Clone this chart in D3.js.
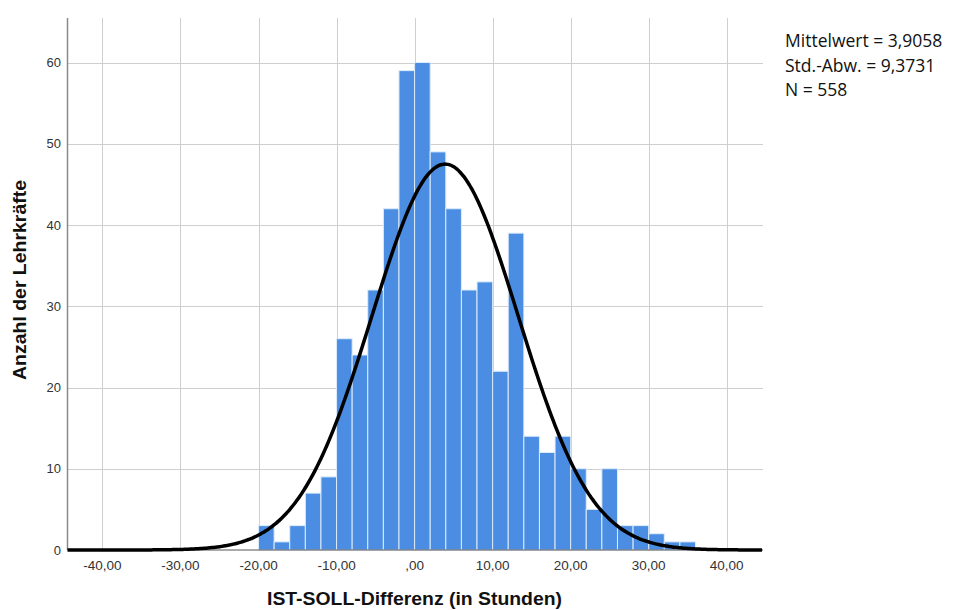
<!DOCTYPE html>
<html>
<head>
<meta charset="utf-8">
<style>
  body { margin: 0; background: #fff; }
  svg { display: block; }
</style>
</head>
<body>
<svg class="histo" width="957" height="610"></svg>

<script src="https://d3js.org/d3.v7.min.js"></script>
<script>
  // histogram bins (lower edge, width 2 h) and counts
  const binLower = [-20, -18, -16, -14, -12, -10, -8, -6, -4, -2, 0, 2, 4, 6, 8, 10, 12, 14, 16, 18, 20, 22, 24, 26, 28, 30, 32, 34];
  const counts = [3, 1, 3, 7, 9, 26, 24, 32, 42, 59, 60, 49, 42, 32, 33, 22, 39, 14, 12, 14, 10, 5, 10, 3, 3, 2, 1, 1];
  const binWidth = 2;

  const xTicks = [-40, -30, -20, -10, 0, 10, 20, 30, 40];
  const yTicks = [0, 10, 20, 30, 40, 50, 60];

  const statLabels = ["Mittelwert = 3,9058", "Std.-Abw. = 9,3731", "N = 558"];
  const mean = 3.9058, sd = 9.3731, n = 558;

  const width = 957;
  const height = 610;
  const plotLeft = 67.5, plotRight = 763, plotTop = 18, plotBottom = 550;

  const svg = d3.select("svg.histo");

  const x = d3.scaleLinear().domain([-44.48, 44.65]).range([plotLeft, plotRight]);
  const y = d3.scaleLinear().domain([0, 60]).range([plotBottom, 62.5]);

  const fmtX = v => v === 0 ? ",00" : d3.format(".2f")(v).replace(".", ",").replace("−", "-");

  // grid
  const grid = svg.append("g").attr("stroke", "#cfcfcf").attr("stroke-width", 1);
  grid.selectAll("line.h")
    .data(yTicks.filter(d => d > 0))
    .join("line")
    .attr("class", "h")
    .attr("x1", plotLeft).attr("x2", plotRight)
    .attr("y1", d => Math.round(y(d)) + 0.5).attr("y2", d => Math.round(y(d)) + 0.5);
  grid.selectAll("line.v")
    .data(xTicks)
    .join("line")
    .attr("class", "v")
    .attr("y1", plotTop).attr("y2", plotBottom)
    .attr("x1", d => Math.round(x(d)) + 0.5).attr("x2", d => Math.round(x(d)) + 0.5);

  // bars
  svg.append("g")
    .selectAll("rect")
    .data(binLower.map((b, i) => ({ x0: b, x1: b + binWidth, c: counts[i] })))
    .join("rect")
    .attr("x", d => x(d.x0))
    .attr("width", d => x(d.x1) - x(d.x0))
    .attr("y", d => y(d.c))
    .attr("height", d => y(0) - y(d.c))
    .attr("fill", "#4a8de2")
    .attr("stroke", "#dcecfb")
    .attr("stroke-width", 1);

  // axis lines
  svg.append("line")
    .attr("x1", plotLeft).attr("x2", plotLeft)
    .attr("y1", plotTop).attr("y2", plotBottom)
    .attr("stroke", "#8a8a8a").attr("stroke-width", 1.5);
  svg.append("line")
    .attr("x1", plotLeft).attr("x2", plotRight)
    .attr("y1", plotBottom).attr("y2", plotBottom)
    .attr("stroke", "#555").attr("stroke-width", 1);

  // normal curve from the stated mean / sd / N
  const pdf = v => Math.exp(-0.5 * ((v - mean) / sd) ** 2) / (sd * Math.sqrt(2 * Math.PI));
  const curvePts = d3.range(-44.48, 44.66, 0.25).map(v => [v, n * binWidth * pdf(v)]);
  svg.append("path")
    .datum(curvePts)
    .attr("fill", "none")
    .attr("stroke", "#000")
    .attr("stroke-width", 3.5)
    .attr("d", d3.line().x(d => x(d[0])).y(d => y(d[1])).curve(d3.curveBasis));

  // tick labels
  svg.append("g")
    .attr("font-family", "Liberation Sans, Arial, sans-serif")
    .attr("font-size", 13)
    .attr("fill", "#333")
    .attr("text-anchor", "end")
    .selectAll("text")
    .data(yTicks)
    .join("text")
    .attr("x", 61)
    .attr("y", d => y(d) + 4.5)
    .text(d => d);

  svg.append("g")
    .attr("font-family", "Liberation Sans, Arial, sans-serif")
    .attr("font-size", 13.5)
    .attr("fill", "#333")
    .attr("text-anchor", "middle")
    .selectAll("text")
    .data(xTicks)
    .join("text")
    .attr("x", d => x(d))
    .attr("y", 570)
    .text(d => fmtX(d));

  // axis titles
  svg.append("text")
    .attr("x", 414.5)
    .attr("y", 605)
    .attr("text-anchor", "middle")
    .attr("font-family", "Liberation Sans, Arial, sans-serif")
    .attr("font-weight", "bold")
    .attr("font-size", 19)
    .attr("textLength", 295)
    .attr("lengthAdjust", "spacingAndGlyphs")
    .attr("fill", "#111")
    .text("IST-SOLL-Differenz (in Stunden)");

  svg.append("text")
    .attr("transform", "translate(26,280) rotate(-90)")
    .attr("text-anchor", "middle")
    .attr("font-family", "Liberation Sans, Arial, sans-serif")
    .attr("font-weight", "bold")
    .attr("font-size", 19)
    .attr("textLength", 200)
    .attr("lengthAdjust", "spacingAndGlyphs")
    .attr("fill", "#111")
    .text("Anzahl der Lehrkräfte");

  // stats box
  svg.append("g")
    .attr("font-family", "Open Sans, Noto Sans, sans-serif")
    .attr("font-size", 17.5)
    .attr("fill", "#111")
    .selectAll("text")
    .data(statLabels)
    .join("text")
    .attr("x", 785)
    .attr("y", (d, i) => 47 + i * 24.5)
    .text(d => d);
</script>
</body>
</html>
